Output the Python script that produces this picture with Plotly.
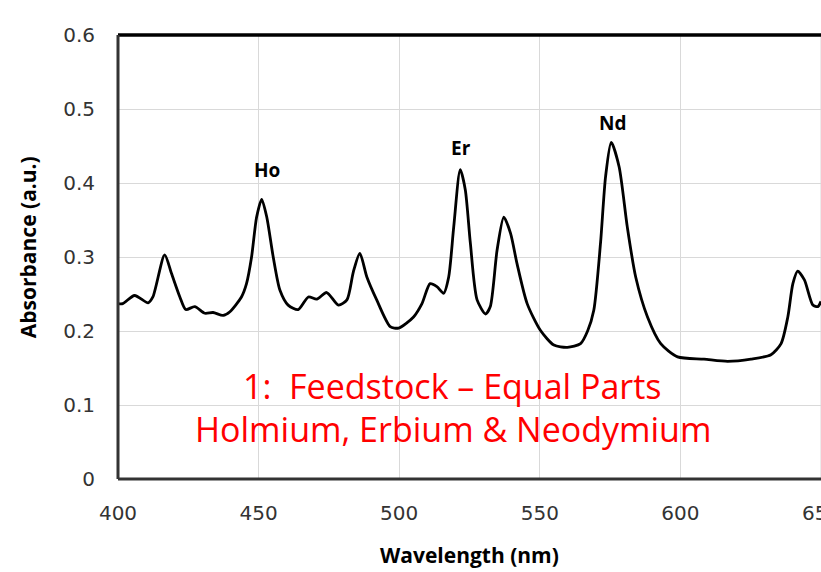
import plotly.graph_objects as go

# Spectrum
wavelength = [400, 401.7, 405.9, 410.7, 412.4, 416.6, 419.0, 422.0, 424.1, 427.3,
              430.9, 433.8, 437.4, 439.8, 443.9, 445.7, 447.5, 449.3, 451.1, 452.9,
              455.2, 457.6, 460.5, 464.1, 467.7, 470.7, 474.2, 478.4, 481.4, 483.7,
              486.0, 488.5, 492.0, 496.8, 499.8, 505.1, 508.1, 511.0, 513.4, 515.8,
              517.6, 519.4, 521.7, 523.5, 525.3, 527.7, 530.7, 532.4, 534.8, 537.2,
              539.6, 541.9, 545.5, 550.2, 555.0, 559.8, 564.5, 567.0, 569.2, 571.6,
              573.4, 575.4, 578.2, 581.1, 584.1, 588.3, 593.0, 599.0, 608.4, 616.8,
              625.1, 632.2, 635.8, 638.2, 640.0, 641.7, 644.1, 647.1, 648.9, 650]
absorbance = [0.237, 0.237, 0.248, 0.238, 0.246, 0.303, 0.278, 0.246, 0.229, 0.233,
              0.224, 0.225, 0.221, 0.226, 0.246, 0.264, 0.300, 0.354, 0.378, 0.354,
              0.300, 0.255, 0.235, 0.229, 0.246, 0.243, 0.252, 0.235, 0.242, 0.280,
              0.305, 0.273, 0.242, 0.206, 0.204, 0.219, 0.237, 0.264, 0.260, 0.251,
              0.273, 0.341, 0.418, 0.391, 0.319, 0.242, 0.223, 0.233, 0.309, 0.354,
              0.332, 0.291, 0.237, 0.201, 0.181, 0.178, 0.183, 0.200, 0.228, 0.319,
              0.409, 0.455, 0.422, 0.341, 0.273, 0.219, 0.183, 0.165, 0.162, 0.159,
              0.162, 0.168, 0.183, 0.219, 0.264, 0.281, 0.269, 0.235, 0.233, 0.240]

x_ticks = [400, 450, 500, 550, 600, 650]
y_ticks = [0, 0.1, 0.2, 0.3, 0.4, 0.5, 0.6]
y_tick_labels = ["0", "0.1", "0.2", "0.3", "0.4", "0.5", "0.6"]

peak_labels = ["Ho", "Er", "Nd"]
peak_x = [452.9, 521.9, 575.8]
peak_y = [0.417, 0.447, 0.481]

caption_lines = ["1:\u00a0\u00a0Feedstock \u2013 Equal Parts",
                 "Holmium, Erbium &amp; Neodymium"]

FONT = "Open Sans"
TICKFONT = "DejaVu Sans"

fig = go.Figure()
fig.add_trace(go.Scatter(
    x=wavelength, y=absorbance, mode="lines",
    line=dict(color="black", width=2.8, shape="spline", smoothing=0.7),
    showlegend=False, hoverinfo="skip"))

fig.update_layout(
    width=821, height=572,
    margin=dict(l=118, r=0, t=35, b=93),
    paper_bgcolor="white", plot_bgcolor="white",
    font=dict(family=FONT, color="#333333"),
    xaxis=dict(range=[400, 650], tickvals=x_ticks[:-1], showgrid=True,
               gridcolor="#d9d9d9", gridwidth=1, zeroline=False, showline=False,
               tickfont=dict(size=20, color="#333333", family=TICKFONT),
               ticks="", ticklabelstandoff=20, automargin=False),
    yaxis=dict(range=[0, 0.6], tickvals=y_ticks, ticktext=y_tick_labels,
               showgrid=True, gridcolor="#d9d9d9", gridwidth=1, zeroline=False,
               showline=False, tickfont=dict(size=20, color="#333333", family=TICKFONT),
               ticks="", ticklabelstandoff=22, automargin=False),
)

# vertical grid line at 650 (right edge)
fig.add_shape(type="line", xref="x", yref="paper", x0=650, x1=650, y0=0, y1=1,
              line=dict(color="#d9d9d9", width=1), layer="below")

# frame
fig.add_shape(type="line", xref="paper", yref="paper", x0=0, x1=1, y0=1, y1=1,
              line=dict(color="black", width=3.5))
fig.add_shape(type="line", xref="paper", yref="paper", x0=0, x1=0, y0=0, y1=1,
              line=dict(color="#333333", width=3))
fig.add_shape(type="line", xref="paper", yref="paper", x0=0, x1=1, y0=0, y1=0,
              line=dict(color="#333333", width=3))

# last x tick label, cut by the right edge as in the reference
fig.add_annotation(xref="x", yref="paper", x=x_ticks[-1], y=0, yshift=-34,
                   text=str(x_ticks[-1]), showarrow=False,
                   font=dict(size=20, color="#333333", family=TICKFONT),
                   xanchor="center", yanchor="middle")

for lab, px, py in zip(peak_labels, peak_x, peak_y):
    fig.add_annotation(x=px, y=py, text="<b>%s</b>" % lab, showarrow=False,
                       font=dict(size=19, color="black", family=FONT),
                       xanchor="center", yanchor="middle")

fig.add_annotation(xref="paper", yref="paper", x=0.4765, y=0.2095,
                   text=caption_lines[0], showarrow=False,
                   font=dict(size=34, color="#ff0000", family=FONT),
                   xanchor="center", yanchor="middle")
fig.add_annotation(xref="paper", yref="paper", x=0.4765, y=0.1126,
                   text=caption_lines[1], showarrow=False,
                   font=dict(size=34, color="#ff0000", family=FONT),
                   xanchor="center", yanchor="middle")

# axis titles
fig.add_annotation(xref="paper", yref="paper", x=0, y=0.521, xshift=-90.5,
                   text="<b>Absorbance (a.u.)</b>", textangle=-90, showarrow=False,
                   font=dict(size=21, color="black", family=FONT),
                   xanchor="center", yanchor="middle")
fig.add_annotation(xref="paper", yref="paper", x=0.5, y=0, yshift=-76,
                   text="<b>Wavelength (nm)</b>", showarrow=False,
                   font=dict(size=21, color="black", family=FONT),
                   xanchor="center", yanchor="middle")

fig.write_html("out.html")
